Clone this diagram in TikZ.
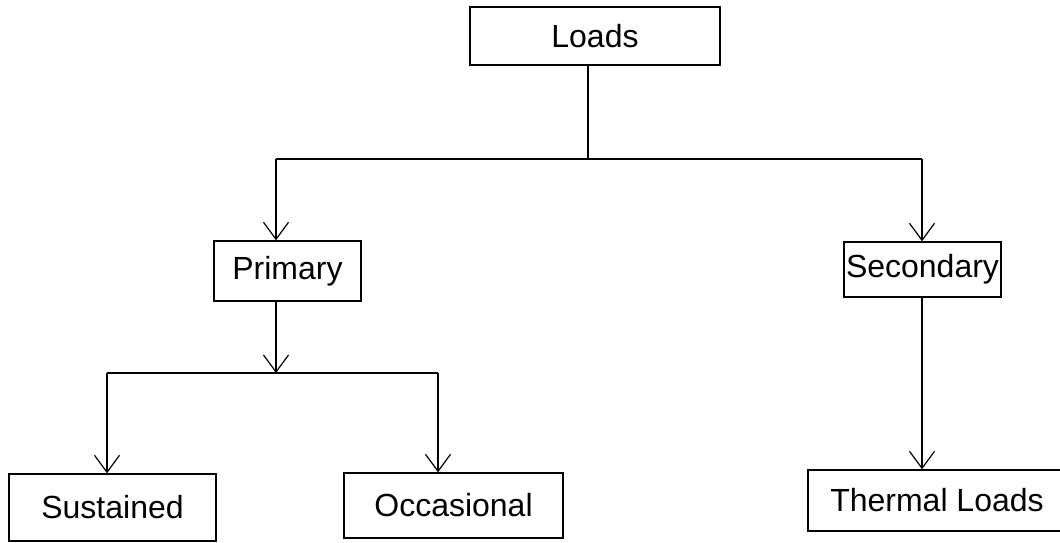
\documentclass[tikz,border=0pt]{standalone}
\usepackage{fontspec}
\setmainfont{Liberation Sans}
\usetikzlibrary{arrows.meta}
\begin{document}
\begin{tikzpicture}[x=1pt,y=-1pt,
  box/.style={draw, line width=1.4pt, inner sep=0pt, font=\fontsize{32}{38}\selectfont},
  link/.style={line width=1.4pt},
  arr/.style={line width=1.4pt, -{Straight Barb[length=17pt,width=25pt,line width=1.2pt]}}]
\useasboundingbox (0,0) rectangle (1060,542);
\clip (0,0) rectangle (1060,542);
\fill[white] (0,0) rectangle (1060,542);
\node[box, minimum width=250pt, minimum height=58pt] (loads) at (595,36) {Loads};
\node[box, minimum width=147pt, minimum height=60pt] (primary) at (287.5,271) {Primary};
\node[box, minimum width=157pt, minimum height=55pt] (secondary) at (922.5,269.5) {Secondary};
\node[box, minimum width=207pt, minimum height=67pt] (sustained) at (112.5,507.5) {Sustained};
\node[box, minimum width=219pt, minimum height=65pt] (occasional) at (453.5,505.5) {Occasional};
\node[box, minimum width=258pt, minimum height=61pt] (thermal) at (937,500.5) {Thermal Loads};
\coordinate (jt) at (588,159);
\coordinate (jl) at (276,159);
\coordinate (jr) at (922,159);
\coordinate (jp) at (276,373);
\coordinate (jsl) at (107,373);
\coordinate (jsr) at (438,373);
\draw[link] (loads.south -| jt) -- (jt);
\draw[link] (jl) -- (jr);
\draw[arr] (jl) -- (jl |- primary.north);
\draw[arr] (jr) -- (jr |- secondary.north);
\draw[arr] (primary.south -| jp) -- (jp);
\draw[link] (jsl) -- (jsr);
\draw[arr] (jsl) -- (jsl |- sustained.north);
\draw[arr] (jsr) -- (jsr |- occasional.north);
\draw[arr] (secondary.south -| jr) -- (jr |- thermal.north);
\end{tikzpicture}
\end{document}
